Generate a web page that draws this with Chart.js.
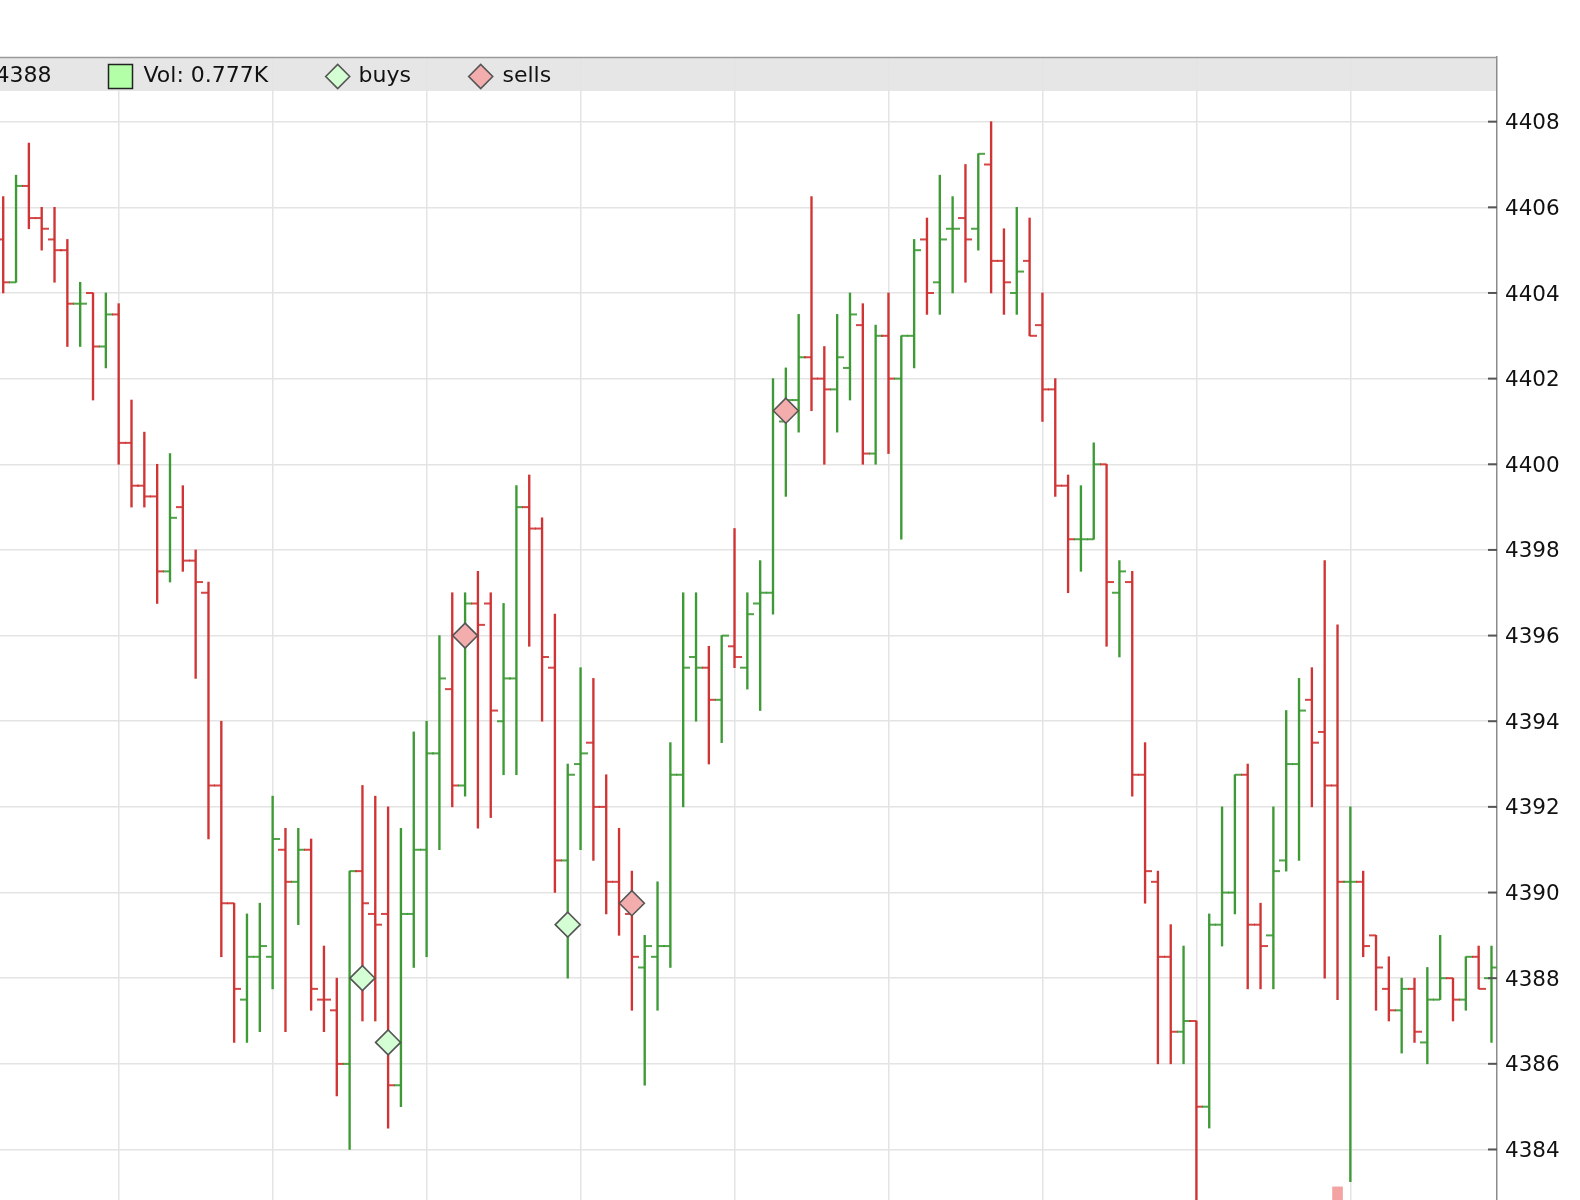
<!DOCTYPE html>
<html>
<head>
<meta charset="utf-8">
<style>
html,body{margin:0;padding:0;background:#fff;overflow:hidden}
#wrap{width:1580px;height:1200px;position:relative}
</style>
<script src="https://cdn.jsdelivr.net/npm/chart.js@4.4.1/dist/chart.umd.min.js"></script>
</head>
<body>
<div id="wrap"><canvas id="c" width="1580" height="1200"></canvas></div>
<script>
// ---- data (bar index 0..116) ----
const opens = [
4405.25,4404.25,4406.5,4405.75,4405.25,4405.0,4403.75,4404.0,4402.75,4403.5,
4400.5,4399.5,4399.25,4397.5,4399.0,4397.75,4397.0,4392.5,4389.75,4387.5,
4388.5,4388.5,4391.0,4390.25,4391.0,4387.5,4387.25,4386.0,4390.5,4389.5,
4389.5,4385.5,4389.5,4391.0,4393.25,4394.75,4392.5,4396.75,4396.75,4394.0,
4395.0,4399.0,4398.5,4395.25,4390.75,4393.0,4393.5,4392.0,4390.25,4389.5,
4388.25,4388.5,4388.75,4392.75,4395.5,4395.25,4394.5,4395.75,4395.25,4396.75,
4397.0,4401.0,4401.5,4402.5,4402.0,4401.75,4402.25,4403.25,4400.25,4403.0,
4402.0,4403.0,4405.25,4404.25,4405.5,4405.75,4405.5,4407.0,4404.75,4404.0,
4404.75,4403.25,4401.75,4399.5,4398.25,4398.25,4400.0,4397.0,4397.25,4392.75,
4390.25,4388.5,4386.75,4387.0,4385.0,4389.25,4390.0,4392.75,4389.25,4389.0,
4390.75,4393.0,4394.5,4393.75,4392.5,4390.25,4390.25,4389.0,4387.75,4387.25,
4387.75,4386.5,4387.5,4388.0,4387.5,4388.5,4388.0];
const highs = [
4406.25,4406.75,4407.5,4406.0,4406.0,4405.25,4404.25,4404.0,4404.0,4403.75,
4401.5,4400.75,4400.0,4400.25,4399.5,4398.0,4397.25,4394.0,4389.75,4389.5,
4389.75,4392.25,4391.5,4391.5,4391.25,4388.75,4388.0,4390.5,4392.5,4392.25,
4392.0,4391.5,4393.75,4394.0,4396.0,4397.0,4397.0,4397.5,4397.0,4396.75,
4399.5,4399.75,4398.75,4396.5,4393.0,4395.25,4395.0,4392.75,4391.5,4390.5,
4389.0,4390.25,4393.5,4397.0,4397.0,4395.75,4396.0,4398.5,4397.0,4397.75,
4402.0,4402.25,4403.5,4406.25,4402.75,4403.5,4404.0,4403.75,4403.25,4404.0,
4403.0,4405.25,4405.75,4406.75,4406.25,4407.0,4407.25,4408.0,4405.5,4406.0,
4405.75,4404.0,4402.0,4399.75,4399.5,4400.5,4400.0,4397.75,4397.5,4393.5,
4390.5,4389.25,4388.75,4387.0,4389.5,4392.0,4392.75,4393.0,4389.75,4392.0,
4394.25,4395.0,4395.25,4397.75,4396.25,4392.0,4390.5,4389.0,4388.5,4388.0,
4388.0,4388.25,4389.0,4388.0,4388.5,4388.75,4388.75];
const lows = [
4404.0,4404.25,4405.5,4405.0,4404.25,4402.75,4402.75,4401.5,4402.25,4400.0,
4399.0,4399.0,4396.75,4397.25,4397.5,4395.0,4391.25,4388.5,4386.5,4386.5,
4386.75,4387.75,4386.75,4389.25,4387.25,4386.75,4385.25,4384.0,4387.0,4387.0,
4384.5,4385.0,4388.25,4388.5,4391.0,4392.0,4392.25,4391.5,4391.75,4392.75,
4392.75,4395.75,4394.0,4390.0,4388.0,4391.0,4390.75,4389.5,4389.0,4387.25,
4385.5,4387.25,4388.25,4392.0,4394.0,4393.0,4393.5,4395.25,4394.75,4394.25,
4396.5,4399.25,4400.75,4401.25,4400.0,4400.75,4401.5,4400.0,4400.0,4400.25,
4398.25,4402.25,4403.5,4403.5,4404.0,4404.25,4405.0,4404.0,4403.5,4403.5,
4403.0,4401.0,4399.25,4397.0,4397.5,4398.25,4395.75,4395.5,4392.25,4389.75,
4386.0,4386.0,4386.0,4382.5,4384.5,4388.75,4389.5,4387.75,4387.75,4387.75,
4390.5,4390.75,4392.0,4388.0,4387.5,4383.25,4388.5,4387.25,4387.0,4386.25,
4386.5,4386.0,4387.5,4387.0,4387.25,4387.75,4386.5];
const closes = [
4404.25,4406.5,4405.75,4405.5,4405.0,4403.75,4403.75,4402.75,4403.5,4400.5,
4399.5,4399.25,4397.5,4398.75,4397.75,4397.25,4392.5,4389.75,4387.75,4388.5,
4388.75,4391.25,4390.25,4391.0,4387.75,4387.5,4386.0,4390.5,4389.75,4389.25,
4385.5,4389.5,4391.0,4393.25,4395.0,4392.5,4396.75,4396.25,4394.25,4395.0,
4399.0,4398.5,4395.5,4390.75,4392.75,4393.25,4392.0,4390.25,4389.75,4388.5,
4388.75,4388.75,4392.75,4395.25,4395.25,4394.5,4396.0,4395.5,4396.5,4397.0,
4401.25,4401.5,4402.5,4402.0,4401.75,4402.5,4403.5,4400.25,4403.0,4402.0,
4403.0,4405.0,4404.0,4405.25,4405.5,4405.25,4407.25,4404.75,4404.25,4404.5,
4403.0,4401.75,4399.5,4398.25,4398.25,4400.0,4397.25,4397.5,4392.75,4390.5,
4388.5,4386.75,4387.0,4385.0,4389.25,4390.0,4392.75,4389.25,4388.75,4390.5,
4393.0,4394.25,4393.5,4392.5,4390.25,4390.25,4388.75,4388.25,4387.25,4387.75,
4386.75,4387.5,4388.0,4387.5,4388.5,4387.75,4388.25];
// 1 = green (up) bar, 0 = red (down) bar, as coloured in the picture
const upBar = [
0,1,0,0,0,0,1,0,1,0, 0,0,0,1,0,0,0,0,0,1, 1,1,0,1,0,0,0,1,0,0,
0,1,1,1,1,0,1,0,0,1, 1,0,0,0,1,1,0,0,0,0, 1,1,1,1,1,0,1,0,1,1,
1,1,1,0,0,1,1,0,1,0, 1,1,0,1,1,0,1,0,0,1, 0,0,0,0,1,1,0,1,0,0,
0,0,1,0,1,1,1,0,0,1, 1,1,0,0,0,1,0,0,0,1, 0,1,1,0,1,0,1];
const buyIdx = [28, 30, 44];
const buyPx  = [4388.0, 4386.5, 4389.25];
const sellIdx = [36, 49, 61];
const sellPx  = [4396.0, 4389.75, 4401.25];
const volIdx = [104];
const volK   = [1.15];
const yTicks = [4384,4386,4388,4390,4392,4394,4396,4398,4400,4402,4404,4406,4408];
const xGrid  = [9,21,33,45,57,69,81,93,105];
const legendTexts = ['4388', 'Vol: 0.777K', 'buys', 'sells'];

// ---- styles ----
const RED = '#d03434', GREEN = '#3d9a35';
const BUY_FILL = '#d4ffd4', SELL_FILL = '#f4adad', MARK_EDGE = '#555555';
const FONT = 'DejaVu Sans';
const idx = opens.map((_, i) => i);

function tickCanvas(color, side) {
  const c = document.createElement('canvas');
  c.width = 14; c.height = 4;
  const g = c.getContext('2d');
  g.fillStyle = color;
  g.fillRect(side < 0 ? 0 : 7, 1.1, 7, 1.8);
  return c;
}
const openR = tickCanvas(RED, -1), openG = tickCanvas(GREEN, -1);
const closeR = tickCanvas(RED, 1), closeG = tickCanvas(GREEN, 1);

function diamond(ctx, cx, cy, r, fill) {
  ctx.beginPath();
  ctx.moveTo(cx - r, cy); ctx.lineTo(cx, cy - r); ctx.lineTo(cx + r, cy); ctx.lineTo(cx, cy + r);
  ctx.closePath();
  ctx.fillStyle = fill; ctx.fill();
  ctx.strokeStyle = MARK_EDGE; ctx.lineWidth = 1.6; ctx.stroke();
}

function noPad(s) { s.paddingLeft = 0; s.paddingRight = 0; s.paddingTop = 0; s.paddingBottom = 0; }

const overlay = {
  id: 'overlay',
  beforeDraw(chart) {
    const { ctx, chartArea: a } = chart;
    ctx.save();
    ctx.fillStyle = '#ffffff'; ctx.fillRect(0, 0, chart.width, chart.height);
    ctx.fillStyle = '#e6e6e6'; ctx.fillRect(0, a.top, a.right, 34);
    ctx.restore();
  },
  afterDraw(chart) {
    const { ctx, chartArea: a } = chart;
    const y = chart.scales.y;
    ctx.save();
    ctx.strokeStyle = '#9a9a9a'; ctx.lineWidth = 1.5;
    ctx.beginPath(); ctx.moveTo(0, a.top + 0.5); ctx.lineTo(a.right, a.top + 0.5); ctx.stroke();
    ctx.strokeStyle = '#555555'; ctx.lineWidth = 2;
    y.ticks.forEach(t => {
      const py = y.getPixelForValue(t.value);
      ctx.beginPath(); ctx.moveTo(a.right - 9, py); ctx.lineTo(a.right, py); ctx.stroke();
    });
    // legend row
    const ly = a.top + 19.5;
    ctx.font = '22px "' + FONT + '"';
    ctx.fillStyle = '#111111';
    ctx.textBaseline = 'middle';
    ctx.textAlign = 'right';
    ctx.fillText(legendTexts[0], 51.5, ly);
    ctx.textAlign = 'left';
    ctx.fillStyle = '#b3ffa8'; ctx.fillRect(108.5, ly - 12, 24, 24);
    ctx.strokeStyle = '#222222'; ctx.lineWidth = 1.5; ctx.strokeRect(108.5, ly - 12, 24, 24);
    ctx.fillStyle = '#111111';
    ctx.fillText(legendTexts[1], 143.5, ly);
    diamond(ctx, 337.7, ly, 12, BUY_FILL);
    ctx.fillStyle = '#111111';
    ctx.fillText(legendTexts[2], 358.6, ly);
    diamond(ctx, 480.7, ly, 12, SELL_FILL);
    ctx.fillStyle = '#111111';
    ctx.fillText(legendTexts[3], 502.5, ly);
    ctx.restore();
  }
};

Chart.defaults.font.family = FONT;

new Chart(document.getElementById('c'), {
  type: 'bar',
  data: {
    datasets: [
      { type: 'scatter', label: 'buys', order: 0,
        data: buyIdx.map((x, k) => ({ x, y: buyPx[k] })),
        pointStyle: 'rectRot', pointRadius: 12.5, pointHoverRadius: 12.5,
        pointBackgroundColor: BUY_FILL, pointBorderColor: MARK_EDGE, pointBorderWidth: 1.6 },
      { type: 'scatter', label: 'sells', order: 1,
        data: sellIdx.map((x, k) => ({ x, y: sellPx[k] })),
        pointStyle: 'rectRot', pointRadius: 12.5, pointHoverRadius: 12.5,
        pointBackgroundColor: SELL_FILL, pointBorderColor: MARK_EDGE, pointBorderWidth: 1.6 },
      { type: 'scatter', label: 'open', order: 2,
        data: idx.map(i => ({ x: i, y: opens[i] })),
        pointStyle: c => upBar[c.dataIndex] ? openG : openR, pointRadius: 4 },
      { type: 'scatter', label: 'close', order: 3,
        data: idx.map(i => ({ x: i, y: closes[i] })),
        pointStyle: c => upBar[c.dataIndex] ? closeG : closeR, pointRadius: 4 },
      { type: 'bar', label: 'range', order: 4, grouped: false,
        data: idx.map(i => ({ x: i, y: [lows[i], highs[i]] })),
        backgroundColor: c => upBar[c.dataIndex] ? GREEN : RED,
        borderWidth: 0, barThickness: 1.7 },
      { type: 'bar', label: 'volume', order: 5, grouped: false, yAxisID: 'yv',
        data: volIdx.map((x, k) => ({ x, y: volK[k] })),
        backgroundColor: '#f4a3a3', borderWidth: 0, barThickness: 10 }
    ]
  },
  options: {
    responsive: false,
    animation: false,
    events: [],
    layout: { autoPadding: false, padding: { top: 57, left: 0, right: 0, bottom: 0 } },
    plugins: { legend: { display: false }, tooltip: { enabled: false } },
    scales: {
      x: {
        type: 'linear', min: -0.25, max: 116.43, offset: false,
        afterBuildTicks: s => { s.ticks = xGrid.map(v => ({ value: v })); },
        afterFit: s => { s.height = 0; noPad(s); },
        ticks: { display: false },
        grid: { color: '#e4e4e4', lineWidth: 1.5, drawTicks: false, offset: false },
        border: { display: false }
      },
      y: {
        position: 'right', min: 4382.82, max: 4409.51,
        afterBuildTicks: s => { s.ticks = yTicks.map(v => ({ value: v })); },
        afterFit: s => { s.width = 83; noPad(s); },
        ticks: { font: { family: FONT, size: 21.5 }, color: '#111111', padding: 8, labelOffset: 2,
                 callback: v => String(v) },
        grid: { color: '#e4e4e4', lineWidth: 1.5, drawTicks: false },
        border: { display: true, color: '#8c8c8c', width: 1.5 }
      },
      yv: { display: false, min: 0, max: 100, afterFit: s => { noPad(s); } }
    }
  },
  plugins: [overlay]
});
</script>
</body>
</html>
